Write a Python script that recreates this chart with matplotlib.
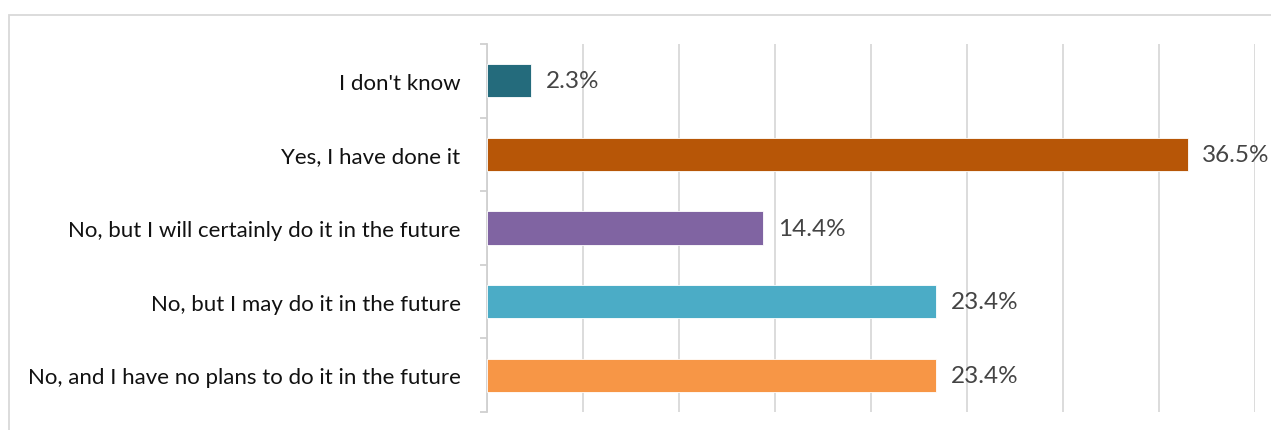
import matplotlib
matplotlib.use("Agg")
import matplotlib.pyplot as plt
from matplotlib.patches import Rectangle
import numpy as np

categories = [
    "I don't know",
    "Yes, I have done it",
    "No, but I will certainly do it in the future",
    "No, but I may do it in the future",
    "No, and I have no plans to do it in the future",
]
values = [2.3, 36.5, 14.4, 23.4, 23.4]
colors = ["#246B7C", "#B75607", "#8064A2", "#4BACC6", "#F79646"]
xticks = [0, 5, 10, 15, 20, 25, 30, 35, 40]

plt.rcParams["font.family"] = ["Lato", "DejaVu Sans"]

W, H = 1271, 431
fig = plt.figure(figsize=(W / 100, H / 100), dpi=100)
fig.patch.set_facecolor("white")

# outer chart border
fig.patches.append(Rectangle((9 / W, -0.1), 1.2, 1 - 16 / H + 0.1,
                             transform=fig.transFigure, fill=False,
                             edgecolor="#d9d9d9", linewidth=1.3))

ax = fig.add_axes([487 / W, 1 - 413 / H, (1255 - 487) / W, (413 - 45) / H])

y = np.arange(len(categories))
ax.barh(y, values, height=0.45, color=colors, edgecolor="white",
        linewidth=0.6, zorder=3)

for yi, v in zip(y, values):
    ax.text(v + 0.75, yi, f"{v}%", va="center", ha="left",
            fontsize=17.5, color="#444444", zorder=4)

ax.set_xlim(0, 40)
ax.set_ylim(len(categories) - 0.5, -0.5)
ax.set_xticks(xticks)
ax.tick_params(axis="x", bottom=False, labelbottom=False)
ax.grid(axis="x", color="#d9d9d9", linewidth=1.3, zorder=0)

ax.set_yticks(y)
ax.set_yticklabels(categories, fontsize=16, color="#111111")
ax.set_yticks(np.arange(-0.5, len(categories), 1), minor=True)
ax.tick_params(axis="y", which="major", length=0, pad=19)
ax.tick_params(axis="y", which="minor", length=5, width=1.3, color="#d0d0d0")

for s in ["top", "right", "bottom"]:
    ax.spines[s].set_visible(False)
ax.spines["left"].set_color("#d0d0d0")
ax.spines["left"].set_linewidth(1.3)

fig.savefig("out.png", dpi=100)
